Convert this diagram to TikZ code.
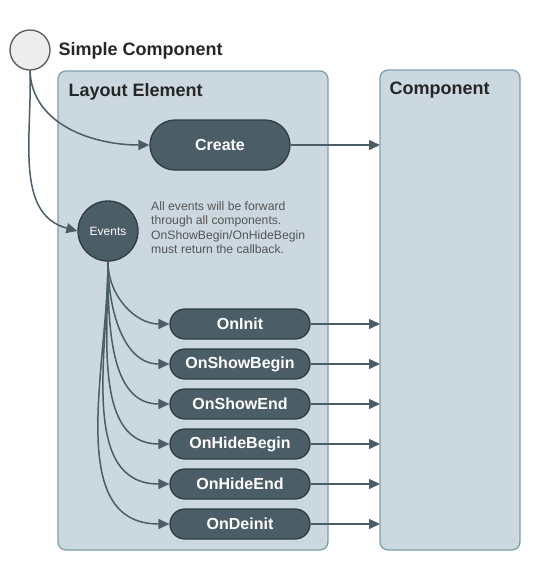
\documentclass[tikz,border=0pt]{standalone}
\usepackage{fontspec}
\setmainfont{Liberation Sans}
\usetikzlibrary{arrows.meta}
\definecolor{boxfill}{HTML}{CBD8DF}
\definecolor{boxline}{HTML}{7F9EAE}
\definecolor{slate}{HTML}{4B5D67}
\definecolor{slateline}{HTML}{2F3C43}
\definecolor{notegray}{HTML}{555555}
\tikzset{
    lane/.style={draw=boxline,fill=boxfill,line width=1.3pt,rounded corners=8pt},
    title/.style={anchor=west,text=black!85,font=\bfseries\fontsize{18}{20}\selectfont},
    pill/.style={rectangle,draw=slateline,fill=slate,line width=1.3pt,
        minimum width=140pt,text=white,font=\bfseries\fontsize{16}{18}\selectfont},
    flow/.style={draw=slate,line width=1.5pt,-{Triangle[length=11pt,width=10pt]}}
}
\begin{document}
\begin{tikzpicture}[x=1pt,y=-1pt]
	\useasboundingbox (0,0) rectangle (560,571);

	% lanes
	\draw[lane] (58,71) rectangle (328,550);
	\draw[lane] (380,70) rectangle (520,550);
	\node[title] (layouttitle) at (65,92) {Layout Element};
	\node[title] (comptitle) at (386,90) {Component};

	% start
	\node[circle,draw=black!65,fill=black!7,line width=1.3pt,minimum size=40pt,inner sep=0pt] (start) at (30,50) {};
	\node[title] (starttitle) at (55,51) {Simple Component};

	\node[pill,minimum height=50pt,rounded corners=25pt] (create) at (220,145) {Create};
	\node[circle,draw=slateline,fill=slate,line width=1.3pt,minimum size=60pt,inner sep=0pt,
		text=white,font=\fontsize{12}{14}\selectfont] (events) at (108,231) {Events};
	\node[anchor=north west,align=left,inner sep=0pt,text=notegray,
		font=\fontsize{12.2}{14.5}\selectfont] (note) at (151,201)
		{All events will be forward\\through all components.\\OnShowBegin/OnHideBegin\\must return the callback.};

	\coordinate (createin) at (380,145);
	\draw[flow] (create) -- (createin);
	\draw[flow] (start.south) to[out=-88,in=180] (create.west);
	\draw[flow] (start.south) to[out=-88,in=165] (events.west);

	% event pills
	\foreach \name [count=\i] in {OnInit,OnShowBegin,OnShowEnd,OnHideBegin,OnHideEnd,OnDeinit}{
		\node[pill,minimum height=30pt,rounded corners=15pt] (ev\i) at (240,284+40*\i) {\name};
		\coordinate (evin\i) at (380,284+40*\i);
		\draw[flow] (ev\i) -- (evin\i);
		\draw[flow] (events.south) to[out=-90,in=180] (ev\i.west);
	}
\end{tikzpicture}
\end{document}
